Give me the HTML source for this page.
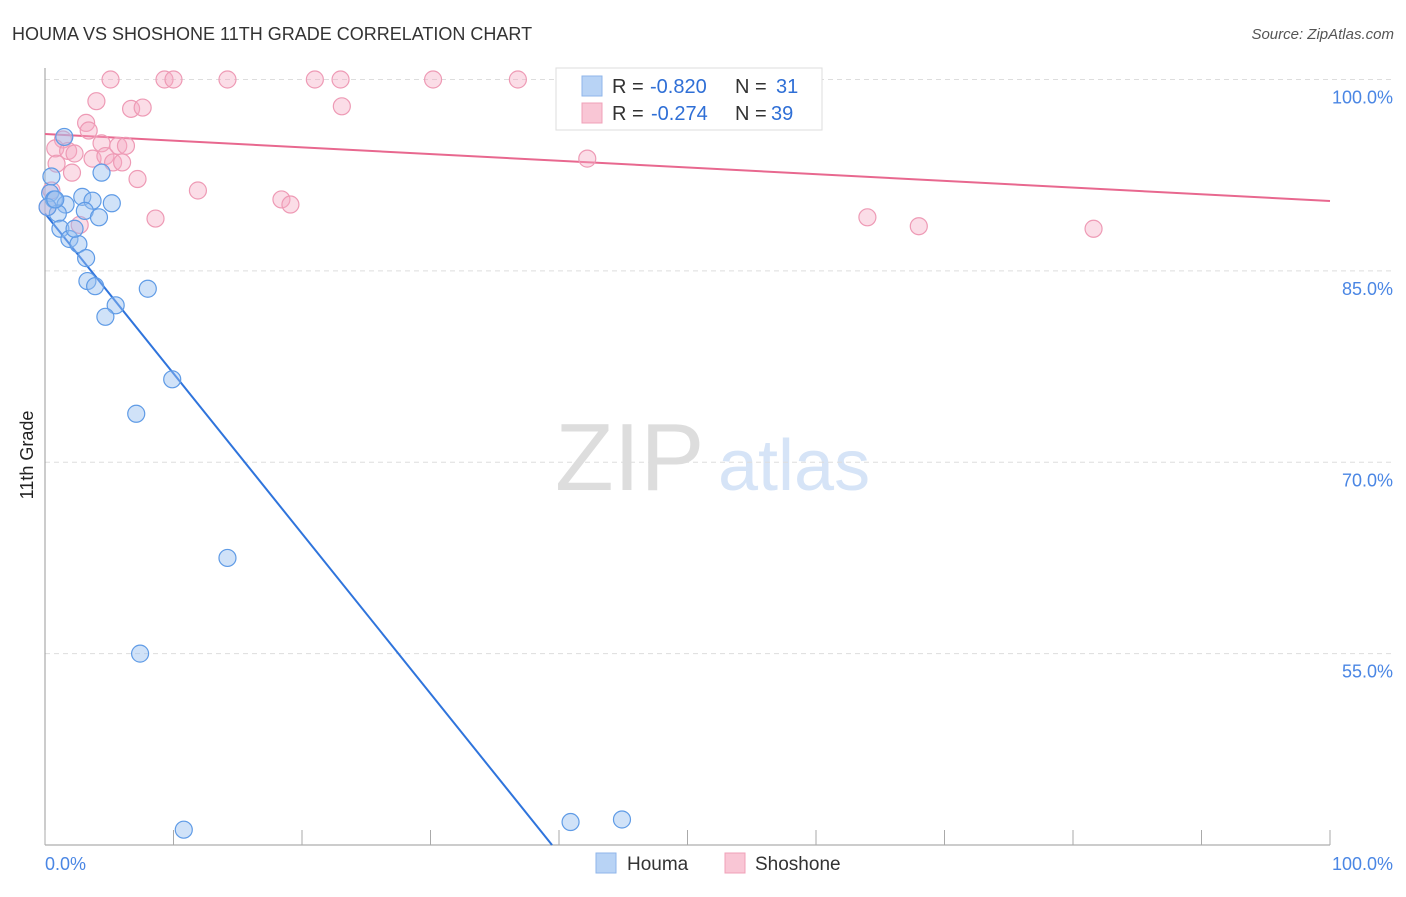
<!DOCTYPE html>
<html><head><meta charset="utf-8"><style>
body{margin:0;background:#fff;font-family:"Liberation Sans",sans-serif}
svg text{font-family:"Liberation Sans",sans-serif}
</style></head><body>
<svg id="c" width="1406" height="892" xmlns="http://www.w3.org/2000/svg">
<text x="12" y="40" font-size="18" fill="#333">HOUMA VS SHOSHONE 11TH GRADE CORRELATION CHART</text>
<text x="1394" y="39" font-size="15" fill="#555" font-style="italic" text-anchor="end">Source: ZipAtlas.com</text>
<text transform="translate(33,455) rotate(-90)" font-size="18" fill="#222" text-anchor="middle">11th Grade</text>
<g><text x="555" y="490" font-size="96" fill="#ddd" font-family="Liberation Serif,serif">ZIP</text><text x="718" y="490" font-size="72" fill="#d6e4f7">atlas</text></g>
<g id="grid"></g><g id="axes"></g><g id="lines"></g><g id="pts"></g>
<g>
<rect x="556" y="68" width="266" height="62" fill="#fff" stroke="#ddd"/>
<rect x="582" y="76" width="20" height="20" fill="#b8d3f5" stroke="#8fb6ea"/>
<text x="612" y="93" font-size="20" fill="#333">R =</text>
<text x="650" y="93" font-size="20" fill="#2f6fd6">-0.820</text>
<text x="735" y="93" font-size="20" fill="#333">N =</text>
<text x="776" y="93" font-size="20" fill="#2f6fd6">31</text>
<rect x="582" y="103" width="20" height="20" fill="#f9c6d5" stroke="#f0a0b8"/>
<text x="612" y="120" font-size="20" fill="#333">R =</text>
<text x="651" y="120" font-size="20" fill="#2f6fd6">-0.274</text>
<text x="735" y="120" font-size="20" fill="#333">N =</text>
<text x="771" y="120" font-size="20" fill="#2f6fd6">39</text>
</g>
<g>
<rect x="596" y="853" width="20" height="20" fill="#b8d3f5" stroke="#8fb6ea"/>
<text x="627" y="870" font-size="19" fill="#333">Houma</text>
<rect x="725" y="853" width="20" height="20" fill="#f9c6d5" stroke="#f0a0b8"/>
<text x="755" y="870" font-size="19" fill="#333">Shoshone</text>
</g>
</svg>
<script>
const yTicks=[100,85,70,55];
const yTickLabels=["100.0%","85.0%","70.0%","55.0%"];
const xTicks=[0,10,20,30,40,50,60,70,80,90,100];
const houmaX=[1.5,0.5,0.4,0.7,2.9,3.7,1.6,3.1,1.0,4.2,5.2,4.4,1.2,1.9,2.6,2.3,3.2,3.3,3.9,5.5,4.7,8.0,9.9,7.1,14.2,7.4,10.8,40.9,44.9,0.2,0.8];
const houmaY=[95.5,92.4,91.1,90.6,90.8,90.5,90.2,89.7,89.5,89.2,90.3,92.7,88.3,87.5,87.1,88.3,86.0,84.2,83.8,82.3,81.4,83.6,76.5,73.8,62.5,55.0,41.2,41.8,42.0,90.0,90.6];
const shoshX=[5.1,9.3,10.0,14.2,21.0,23.0,30.2,36.8,4.0,6.7,7.6,23.1,3.2,3.4,1.4,0.8,1.8,2.3,3.7,4.4,5.7,6.3,4.7,5.3,6.0,0.9,2.1,7.2,11.9,18.4,19.1,8.6,42.2,64.0,68.0,81.6,0.5,2.7,0.2];
const shoshY=[100,100,100,100,100,100,100,100,98.3,97.7,97.8,97.9,96.6,96.0,95.3,94.6,94.4,94.2,93.8,95.0,94.8,94.8,94.0,93.5,93.5,93.4,92.7,92.2,91.3,90.6,90.2,89.1,93.8,89.2,88.5,88.3,91.3,88.6,90.0];
const houmaTrend=[89.5,-1.2545];
const shoshTrend=[95.73,-0.0525];
const X0=45,X1=1330,YT=79.5,YB=845;
const sx=v=>X0+(X1-X0)*v/100;
const sy=v=>YT+(100-v)*(YB-YT)/60;
const NS="http://www.w3.org/2000/svg";
function mk(p,t,a){const e=document.createElementNS(NS,t);for(const k in a)e.setAttribute(k,a[k]);document.getElementById(p).appendChild(e);return e;}
yTicks.forEach((t,i)=>{
 const l=mk('grid','line',{x1:45,x2:1392,y1:sy(t),y2:sy(t),stroke:'#ddd','stroke-dasharray':'5,4'});
 
 
 const tx=mk('grid','text',{x:1393,y:sy(t)+24,'font-size':18,fill:'#4a86e4','text-anchor':'end'});
 tx.textContent=yTickLabels[i];
 
 
});
const ya=mk('axes','line',{x1:45,x2:45,y1:68,y2:845,stroke:'#999'});


const xa=mk('axes','line',{x1:45,x2:1330,y1:845,y2:845,stroke:'#999'});


xTicks.forEach(t=>{const l=mk('axes','line',{x1:sx(t),x2:sx(t),y1:830,y2:845,stroke:'#aaa'});
 
 });
[[0,'0.0%','start',45],[100,'100.0%','end',1393]].forEach(d=>{const t=mk('axes','text',{x:d[3],y:870,'font-size':18,fill:'#4a86e4','text-anchor':d[2]});t.textContent=d[1];
 
 });
const hx2=(40-houmaTrend[0])/houmaTrend[1];
const hl=mk('lines','line',{x1:sx(0),y1:sy(houmaTrend[0]),x2:sx(hx2),y2:sy(40),stroke:'#2f74dc','stroke-width':2});


const sl=mk('lines','line',{x1:sx(0),y1:sy(shoshTrend[0]),x2:sx(100),y2:sy(shoshTrend[0]+shoshTrend[1]*100),stroke:'#e8688f','stroke-width':2});


shoshX.forEach((v,i)=>{const c=mk('pts','circle',{cx:sx(v),cy:sy(shoshY[i]),r:8.5,fill:'rgba(246,170,195,0.4)',stroke:'#ee9ab5','stroke-width':1.2});
 
 });
houmaX.forEach((v,i)=>{const c=mk('pts','circle',{cx:sx(v),cy:sy(houmaY[i]),r:8.5,fill:'rgba(150,190,240,0.45)',stroke:'#5f9be6','stroke-width':1.2});
 
 });
</script>
</body></html>
